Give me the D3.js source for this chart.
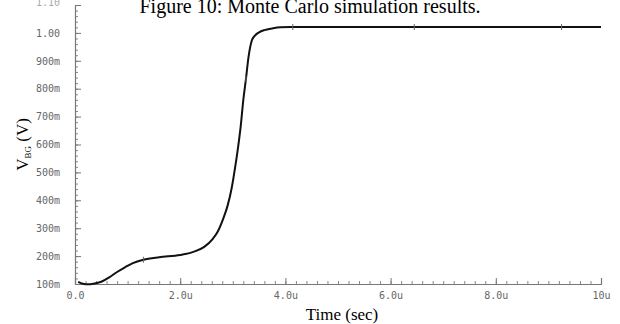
<!DOCTYPE html>
<html>
<head>
<meta charset="utf-8">
<script src="https://cdn.jsdelivr.net/npm/d3@7"></script>
<style>
  body { margin: 0; background: #fff; }
  .tick text { font-family: "DejaVu Sans Mono", monospace; font-size: 10px; fill: #666; }
  .axisText { font-family: "Liberation Serif", "Times New Roman", serif; fill: #000; }
</style>
</head>
<body>
<div class="chart"></div>
<script>
var svgWidth = 620;
var svgHeight = 324;

var margin = { top: 5, right: 19, bottom: 40, left: 75 };

var width = svgWidth - margin.left - margin.right;
var height = svgHeight - margin.top - margin.bottom;

// time in microseconds, voltage in volts
var timeUs = [0.06, 0.15, 0.25, 0.35, 0.5, 0.65, 0.8, 0.95, 1.1, 1.3, 1.6, 2.0, 2.25, 2.45, 2.62, 2.72, 2.82, 2.9, 2.98, 3.05, 3.1, 3.15, 3.2, 3.25, 3.3, 3.36, 3.42, 3.5, 3.6, 3.75, 3.9, 4.1, 5, 6, 7, 8, 9, 10];
var vbg = [0.108, 0.101, 0.099, 0.101, 0.108, 0.124, 0.143, 0.16, 0.175, 0.187, 0.196, 0.204, 0.215, 0.232, 0.262, 0.29, 0.335, 0.38, 0.445, 0.525, 0.59, 0.665, 0.76, 0.835, 0.915, 0.972, 0.99, 1.002, 1.01, 1.016, 1.02, 1.021, 1.021, 1.021, 1.021, 1.021, 1.021, 1.021];

// little marker ticks along the trace
var markerTimes = [1.3, 3.25, 4.14, 6.45, 9.25];
var markerValues = [0.187, 0.835, 1.021, 1.021, 1.021];

var xTicks = [0, 2, 4, 6, 8, 10];
var xTickLabels = ["0.0", "2.0u", "4.0u", "6.0u", "8.0u", "10u"];
var yTicks = [0.1, 0.2, 0.3, 0.4, 0.5, 0.6, 0.7, 0.8, 0.9, 1.0];
var yTickLabels = ["100m", "200m", "300m", "400m", "500m", "600m", "700m", "800m", "900m", "1.00"];

var svg = d3.select(".chart")
  .append("svg")
  .attr("width", svgWidth)
  .attr("height", svgHeight);

var chartGroup = svg.append("g")
  .attr("transform", `translate(${margin.left}, ${margin.top})`);

var xLinearScale = d3.scaleLinear().domain([0, 10]).range([0, width]);
var yLinearScale = d3.scaleLinear().domain([0.1, 1.1]).range([height, 0]);

// minor ticks
var xMinor = d3.range(0, 10.001, 0.2);
var yMinor = d3.range(0.1, 1.1001, 0.02);

chartGroup.append("g")
  .attr("transform", `translate(0, ${height})`)
  .call(d3.axisBottom(xLinearScale).tickValues(xMinor).tickSize(-3).tickFormat(""))
  .call(g => g.select(".domain").remove())
  .selectAll("line").attr("stroke", "#888");

chartGroup.append("g")
  .call(d3.axisLeft(yLinearScale).tickValues(yMinor).tickSize(-3).tickFormat(""))
  .call(g => g.select(".domain").remove())
  .selectAll("line").attr("stroke", "#888");

var bottomAxis = d3.axisBottom(xLinearScale)
  .tickValues(xTicks)
  .tickSize(-6)
  .tickPadding(8)
  .tickFormat((d, i) => xTickLabels[i]);

var leftAxis = d3.axisLeft(yLinearScale)
  .tickValues(yTicks)
  .tickSize(-6)
  .tickPadding(15)
  .tickFormat((d, i) => yTickLabels[i]);

var xg = chartGroup.append("g")
  .attr("transform", `translate(0, ${height})`)
  .call(bottomAxis);

var yg = chartGroup.append("g")
  .call(leftAxis);

[xg, yg].forEach(function (g) {
  g.select(".domain").attr("stroke", "#777").attr("stroke-width", 1.2);
  g.selectAll(".tick line").attr("stroke", "#777");
});

// faint label at the very top of the axis
chartGroup.append("text")
  .attr("x", -15)
  .attr("y", yLinearScale(1.1) - 2)
  .attr("dy", "0.32em")
  .attr("text-anchor", "end")
  .style("font-family", "DejaVu Sans Mono, monospace")
  .style("font-size", "10px")
  .attr("fill", "#aaa")
  .text("1.10");

var points = timeUs.map((t, i) => ({ t: t, v: vbg[i] }));

var line = d3.line()
  .x(d => xLinearScale(d.t))
  .y(d => yLinearScale(d.v))
  .curve(d3.curveMonotoneX);

chartGroup.append("path")
  .datum(points)
  .attr("d", line)
  .attr("fill", "none")
  .attr("stroke", "#111")
  .attr("stroke-width", 2);

chartGroup.selectAll(".marker")
  .data(markerTimes)
  .enter()
  .append("line")
  .attr("class", "marker")
  .attr("x1", d => xLinearScale(d))
  .attr("x2", d => xLinearScale(d))
  .attr("y1", (d, i) => yLinearScale(markerValues[i]) - 3)
  .attr("y2", (d, i) => yLinearScale(markerValues[i]) + 3)
  .attr("stroke", "#666")
  .attr("stroke-width", 1);

// title sits against the top edge
svg.append("text")
  .attr("class", "axisText")
  .attr("x", 310)
  .attr("y", 13)
  .attr("text-anchor", "middle")
  .style("font-size", "20px")
  .text("Figure 10: Monte Carlo simulation results.");

var ylab = svg.append("text")
  .attr("class", "axisText")
  .attr("transform", `translate(28, ${margin.top + height / 2}) rotate(-90)`)
  .attr("text-anchor", "middle")
  .style("font-size", "17px");
ylab.append("tspan").text("V");
ylab.append("tspan").attr("dy", 3).style("font-size", "9px").text("BG");
ylab.append("tspan").attr("dy", -3).text(" (V)");

svg.append("text")
  .attr("class", "axisText")
  .attr("x", 342)
  .attr("y", 320)
  .attr("text-anchor", "middle")
  .style("font-size", "17px")
  .text("Time (sec)");
</script>
</body>
</html>
